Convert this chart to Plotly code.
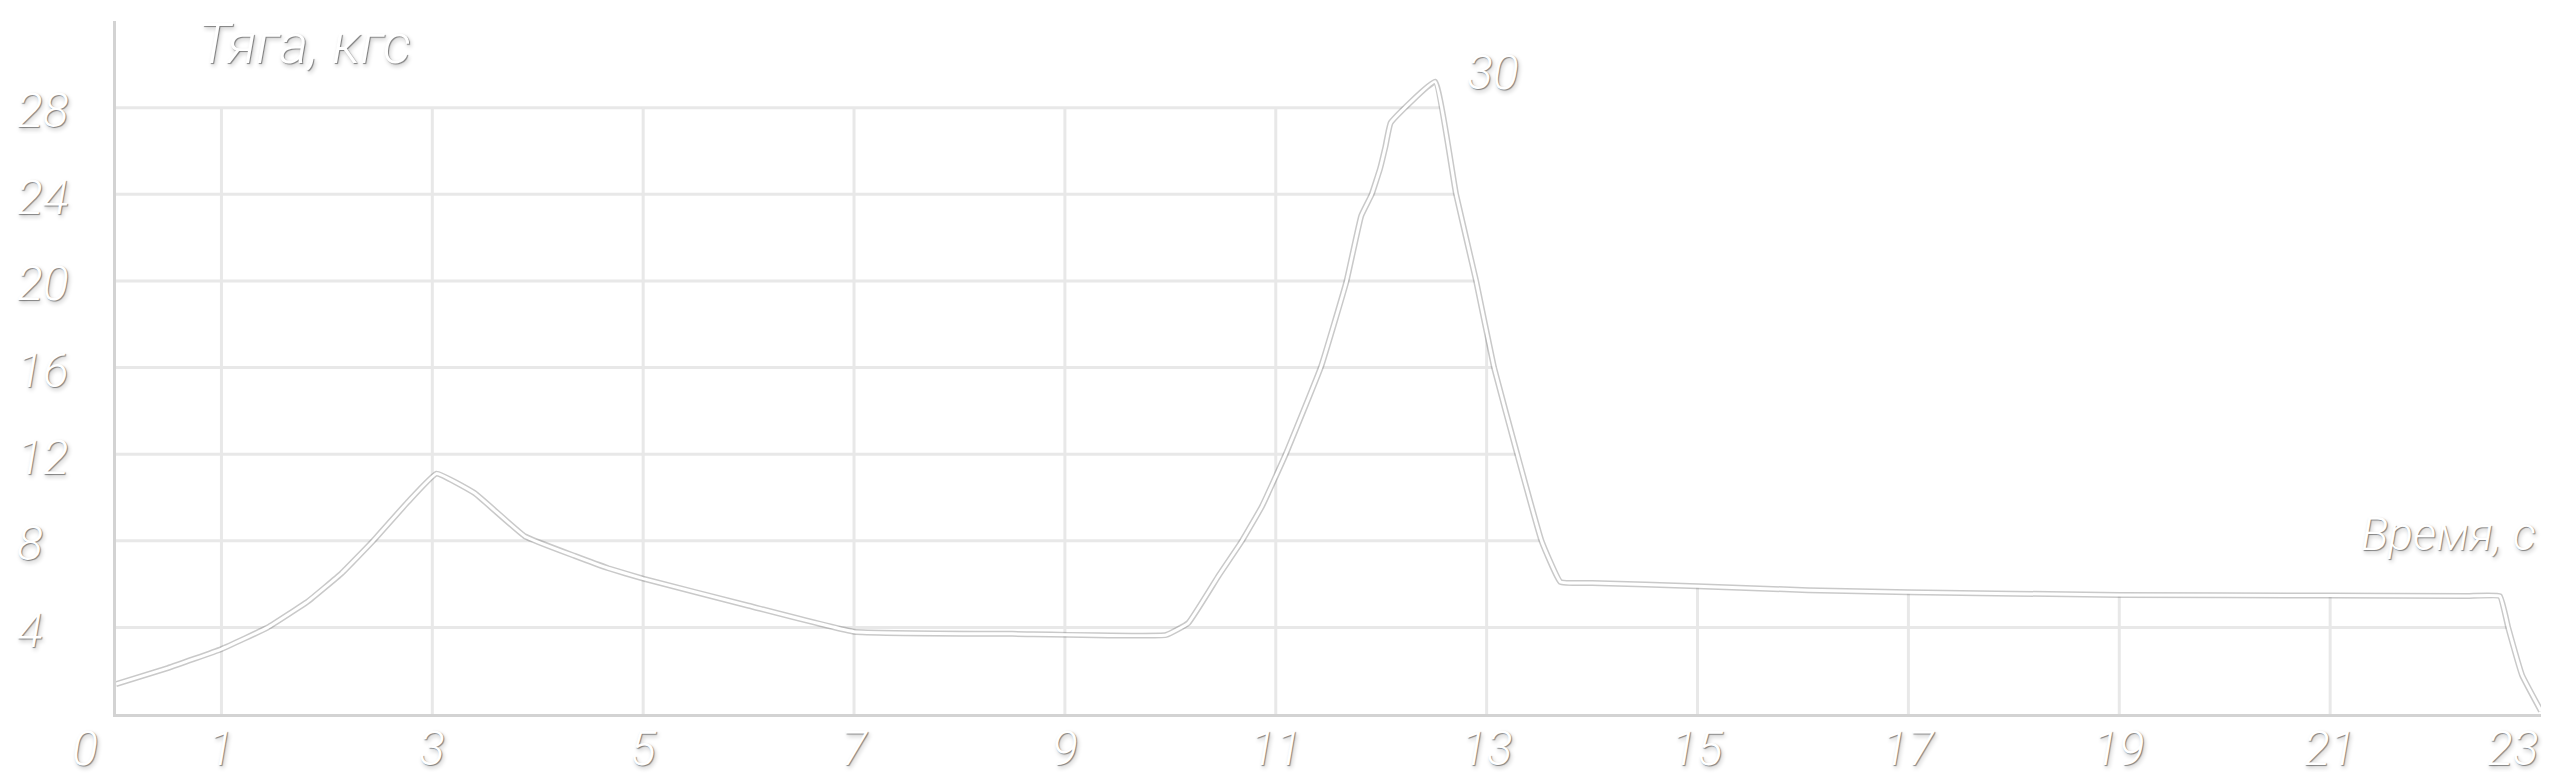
import numpy as np
import plotly.graph_objects as go

# ---- data ----
time_s = [0.0, 0.49, 1.0, 1.44, 1.82, 2.14, 2.44, 2.77, 3.04, 3.4, 3.88, 4.35, 4.67,
          5.0, 6.0, 7.0, 8.5, 9.96, 10.17, 10.46, 10.68, 10.87, 11.09, 11.43, 11.67,
          11.81, 11.91, 11.99, 12.04, 12.09, 12.51, 12.71, 12.9, 13.07, 13.29, 13.52,
          13.7, 14.0, 15.0, 16.05, 17.0, 19.0, 21.0, 22.3, 22.61, 22.69, 22.82, 23.0]
thrust_kgf = [1.38, 2.12, 3.0, 4.0, 5.2, 6.5, 8.0, 9.8, 11.1, 10.2, 8.2, 7.3, 6.73,
              6.25, 5.0, 3.8, 3.7, 3.65, 4.2, 6.4, 8.0, 9.6, 11.95, 16.05, 19.97,
              23.0, 24.0, 25.2, 26.2, 27.3, 29.2, 24.0, 20.0, 16.0, 12.0, 8.0,
              6.1, 6.05, 5.9, 5.72, 5.62, 5.5, 5.47, 5.45, 5.44, 3.97, 1.8, 0.14]

x_tick_vals = [0, 1, 3, 5, 7, 9, 11, 13, 15, 17, 19, 21, 23]
x_tick_labels = ["0", "1", "3", "5", "7", "9", "11", "13", "15", "17", "19", "21", "23"]
x_grid_vals = [1, 3, 5, 7, 9, 11, 13, 15, 17, 19, 21]
y_tick_vals = [4, 8, 12, 16, 20, 24, 28]
y_tick_labels = ["4", "8", "12", "16", "20", "24", "28"]
peak_label = "30"
y_title = "Тяга, кгс"
x_title = "Время, с"

# ---- styling ----
X_MAX, Y_MAX, GRID_TOP = 23, 32, 28
W, H = 2560, 778
ML, MR, MT, MB = 108, 27, 13, 72
GRID_COLOR = "#e8e8e8"
SHADOW = "1px 1px 1px rgba(0,0,0,0.45), 2px 3px 4px rgba(0,0,0,0.22)"
FONT_FAMILY = "Roboto, 'Liberation Sans Narrow', 'DejaVu Sans Condensed', sans-serif"
tick_font = dict(family=FONT_FAMILY, size=48, color="white", style="italic",
                 weight=300, shadow=SHADOW)
ytitle_font = dict(family=FONT_FAMILY, size=56, color="white", style="italic",
                   weight=300, shadow=SHADOW)
xtitle_font = dict(family=FONT_FAMILY, size=46, color="white", style="italic",
                   weight=300, shadow=SHADOW)
x_label_shift = {0: -31, 23: -28}

t = np.array(time_s)
v = np.array(thrust_kgf)
ip = int(np.argmax(v))
t_peak, v_peak = t[ip], v[ip]
t_desc, v_desc = t[ip:], v[ip:]

# grid only inside the region bounded by the descending side of the curve
gx, gy = [], []
for lvl in y_tick_vals:
    t_end = float(np.interp(lvl, v_desc[::-1], t_desc[::-1]))
    gx += [0, t_end, None]
    gy += [lvl, lvl, None]
for xv in x_grid_vals:
    top = GRID_TOP if xv <= t_peak else min(GRID_TOP, float(np.interp(xv, t, v)))
    gx += [xv, xv, None]
    gy += [0, top, None]

fig = go.Figure()
fig.add_trace(go.Scatter(x=gx, y=gy, mode="lines",
                         line=dict(color=GRID_COLOR, width=3),
                         hoverinfo="skip", showlegend=False))
fig.add_trace(go.Scatter(x=time_s, y=thrust_kgf, mode="lines",
                         line=dict(color="rgba(90,90,90,0.33)", width=6,
                                   shape="spline", smoothing=0.3),
                         hoverinfo="skip", showlegend=False, cliponaxis=False))
fig.add_trace(go.Scatter(x=time_s, y=thrust_kgf, mode="lines",
                         line=dict(color="white", width=3,
                                   shape="spline", smoothing=0.3),
                         showlegend=False, cliponaxis=False))

ann = []
for xv, lab in zip(x_tick_vals, x_tick_labels):
    ann.append(dict(x=xv, y=0, xref="x", yref="y", text=lab, showarrow=False,
                    xanchor="center", yanchor="middle", yshift=-34,
                    xshift=x_label_shift.get(xv, 0), font=tick_font))
for yv, lab in zip(y_tick_vals, y_tick_labels):
    ann.append(dict(x=0, y=yv, xref="x", yref="y", text=lab, showarrow=False,
                    xanchor="left", yanchor="middle", xshift=-101, yshift=-3,
                    font=tick_font))
ann.append(dict(x=t_peak, y=v_peak, xref="x", yref="y", text=peak_label,
                showarrow=False, xanchor="center", yanchor="middle",
                xshift=58, yshift=9, font=tick_font))
ann.append(dict(x=(296 - ML) / (W - ML - MR), y=(H - MB - 36) / (H - MB - MT),
                xref="paper", yref="paper", text=y_title, showarrow=False,
                xanchor="center", yanchor="middle", font=ytitle_font))
ann.append(dict(x=(2440 - ML) / (W - ML - MR), y=(H - MB - 526) / (H - MB - MT),
                xref="paper", yref="paper", text=x_title, showarrow=False,
                xanchor="center", yanchor="middle", font=xtitle_font))

fig.update_layout(
    width=W, height=H,
    margin=dict(l=ML, r=MR, t=MT, b=MB),
    paper_bgcolor="white", plot_bgcolor="white",
    annotations=ann,
    xaxis=dict(range=[0, X_MAX], showgrid=False, zeroline=False,
               showticklabels=False, ticks="", showline=True,
               linecolor="#d3d3d3", linewidth=3),
    yaxis=dict(range=[0, Y_MAX], showgrid=False, zeroline=False,
               showticklabels=False, ticks="", showline=True,
               linecolor="#d3d3d3", linewidth=3),
)

fig.write_html("out.html")
